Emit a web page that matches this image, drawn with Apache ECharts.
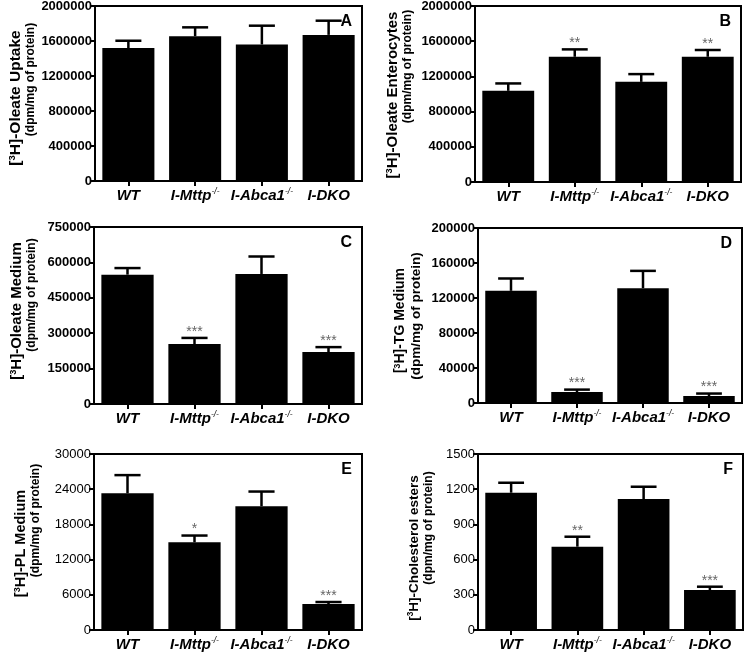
<!DOCTYPE html>
<html>
<head>
<meta charset="utf-8">
<script src="https://cdn.jsdelivr.net/npm/echarts@6/dist/echarts.min.js"></script>
<style>
html,body{margin:0;padding:0;background:#fff;}
#chart{width:745px;height:652px;}
</style>
</head>
<body>
<div id="chart"></div>
<script>
// ---- data ----
const categories = ['WT', 'I-Mttp', 'I-Abca1', 'I-DKO'];
const categorySup = ['', '-/-', '-/-', ''];

const panelLetters = ['A', 'B', 'C', 'D', 'E', 'F'];
const yTitles = [
  ['Oleate Uptake', '(dpm/mg of protein)'],
  ['Oleate Enterocytes', '(dpm/mg of protein)'],
  ['Oleate Medium', '(dpm/mg of protein)'],
  ['TG Medium', '(dpm/mg of protein)'],
  ['PL Medium', '(dpm/mg of protein)'],
  ['Cholesterol esters', '(dpm/mg of protein)']
];
const yMax = [2000000, 2000000, 750000, 200000, 30000, 1500];
const yInterval = [400000, 400000, 150000, 40000, 6000, 300];

const meanA = [1520000, 1655000, 1560000, 1670000];
const semA  = [83000, 101000, 215000, 162000];
const starsA = ['', '', '', ''];

const meanB = [1036000, 1423000, 1138000, 1423000];
const semB  = [84000, 84000, 88000, 77000];
const starsB = ['', '**', '', '**'];

const meanC = [548000, 254000, 551000, 220000];
const semC  = [28000, 26000, 74000, 21000];
const starsC = ['', '***', '', '***'];

const meanD = [128200, 12600, 131200, 8000];
const semD  = [14100, 2700, 19800, 2800];
const starsD = ['', '***', '', '***'];

const meanE = [23300, 14950, 21100, 4430];
const semE  = [3100, 1150, 2500, 340];
const starsE = ['', '*', '', '***'];

const meanF = [1170, 710, 1116, 341];
const semF  = [85, 85, 105, 28];
const starsF = ['', '**', '', '***'];

const means = [meanA, meanB, meanC, meanD, meanE, meanF];
const sems = [semA, semB, semC, semD, semE, semF];
const stars = [starsA, starsB, starsC, starsD, starsE, starsF];

// ---- layout / style ----
const W = 745, H = 652;
const grids = [
  {l: 95, r: 362, t: 6, b: 181},
  {l: 475, r: 741, t: 6, b: 182},
  {l: 94, r: 362, t: 227, b: 404},
  {l: 478, r: 742, t: 228, b: 403},
  {l: 94, r: 362, t: 454, b: 630},
  {l: 478, r: 743, t: 454, b: 630}
];
// axis title: font sizes of the two lines, screen-up offsets of each line, gap
const titleStyle = [
  {f1: 15.5, f2: 12, o1: -4.5, o2: 14, gap: 56.5},
  {f1: 15, f2: 12, o1: -1, o2: 27.5, gap: 59.5},
  {f1: 15, f2: 12, o1: 4.5, o2: 20.5, gap: 54.5},
  {f1: 14, f2: 13.5, o1: -5, o2: -0.5, gap: 53.5},
  {f1: 14.5, f2: 12, o1: -1.5, o2: 21.5, gap: 50.5},
  {f1: 13.5, f2: 12, o1: -6, o2: 14, gap: 41.5}
];
const tickBold = [true, true, true, true, false, false];
const FONT = '"Liberation Sans", Arial, Helvetica, sans-serif';
const BAR_FRAC = 0.78;

function pad(o) { return o >= 0 ? [0, 0, 0, 2 * o] : [0, -2 * o, 0, 0]; }

const chart = echarts.init(document.getElementById('chart'), null, {renderer: 'canvas'});

const option = {
  backgroundColor: '#fff',
  animation: false,
  title: [],
  grid: [],
  xAxis: [],
  yAxis: [],
  series: []
};

grids.forEach((g, k) => {
  option.grid.push({
    left: g.l, top: g.t, width: g.r - g.l, height: g.b - g.t,
    show: true, borderColor: '#000', borderWidth: 2, backgroundColor: 'transparent',
    containLabel: false, outerBoundsMode: 'none'
  });
  option.title.push({
    text: panelLetters[k],
    right: W - g.r + 5, top: g.t + 3,
    textStyle: {fontFamily: FONT, fontWeight: 'bold', fontSize: 16, color: '#000'}
  });
  option.xAxis.push({
    type: 'category', gridIndex: k, data: categories,
    axisLine: {show: true, lineStyle: {color: '#000', width: 2}},
    axisTick: {show: true, alignWithLabel: true, length: 5, lineStyle: {color: '#000', width: 2}},
    axisLabel: {
      margin: 6, interval: 0, hideOverlap: false,
      formatter: (v, i) => categorySup[i] ? '{i|' + v + '}{s|' + categorySup[i] + '}' : '{i|' + v + '}',
      rich: {
        i: {fontFamily: FONT, fontStyle: 'italic', fontWeight: 'bold', fontSize: 15, color: '#000', lineHeight: 17},
        s: {fontFamily: FONT, fontStyle: 'italic', fontSize: 8.5, color: '#000', verticalAlign: 'top', lineHeight: 7}
      }
    },
    splitLine: {show: false}
  });
  const t = yTitles[k], ts = titleStyle[k];
  const p1 = pad(ts.o1), p2 = pad(ts.o2);
  option.yAxis.push({
    type: 'value', gridIndex: k, min: 0, max: yMax[k], interval: yInterval[k],
    name: '{b1|[}{s|3}{b|H]-' + t[0] + '}{b2|}\n{c|' + t[1] + '}',
    nameLocation: 'middle', nameRotate: 90, nameGap: ts.gap, nameMoveOverlap: false,
    nameTextStyle: {
      rich: {
        b1: {fontFamily: FONT, fontWeight: 'bold', fontSize: ts.f1, color: '#000', lineHeight: ts.f1 + 1, padding: [0, 0, 0, p1[3]]},
        b: {fontFamily: FONT, fontWeight: 'bold', fontSize: ts.f1, color: '#000', lineHeight: ts.f1 + 1},
        b2: {fontFamily: FONT, fontWeight: 'bold', fontSize: ts.f1, color: '#000', lineHeight: ts.f1 + 1, padding: [0, p1[1], 0, 0]},
        s: {fontFamily: FONT, fontWeight: 'bold', fontSize: ts.f1 * 0.62, color: '#000', verticalAlign: 'top', lineHeight: ts.f1 * 0.45},
        c: {fontFamily: FONT, fontWeight: 'bold', fontSize: ts.f2, color: '#000', lineHeight: ts.f2 + 3, padding: p2}
      }
    },
    axisLine: {show: true, lineStyle: {color: '#000', width: 2}},
    axisTick: {show: true, length: 5, lineStyle: {color: '#000', width: 2}},
    axisLabel: {
      fontFamily: FONT, fontSize: 13, fontWeight: tickBold[k] ? 'bold' : 'normal', color: '#000', margin: 3,
      formatter: v => String(v)
    },
    splitLine: {show: false}
  });
  option.series.push({
    type: 'bar', xAxisIndex: k, yAxisIndex: k,
    data: means[k], barWidth: (BAR_FRAC * 100) + '%',
    itemStyle: {color: '#000'}, z: 2
  });
  const starArr = stars[k];
  option.series.push({
    type: 'custom', xAxisIndex: k, yAxisIndex: k, z: 3,
    data: means[k].map((m, i) => [i, m, sems[k][i]]),
    renderItem: function (params, api) {
      const i = api.value(0), m = api.value(1), e = api.value(2);
      const p0 = api.coord([i, m]);
      const pt = api.coord([i, m + e]);
      const bw = api.size([1, 0])[0] * BAR_FRAC;
      const half = bw * 0.25;
      const children = [
        {type: 'line', shape: {x1: p0[0], y1: p0[1], x2: pt[0], y2: pt[1]}, style: {stroke: '#000', lineWidth: 2.5}},
        {type: 'line', shape: {x1: pt[0] - half, y1: pt[1], x2: pt[0] + half, y2: pt[1]}, style: {stroke: '#000', lineWidth: 2.5}}
      ];
      const s = starArr[i];
      if (s) {
        children.push({
          type: 'text',
          style: {text: s, x: pt[0], y: pt[1] + 1, textAlign: 'center', textVerticalAlign: 'bottom',
                  fill: '#666', font: '14px ' + FONT}
        });
      }
      return {type: 'group', children: children};
    }
  });
});

chart.setOption(option);
</script>
</body>
</html>
